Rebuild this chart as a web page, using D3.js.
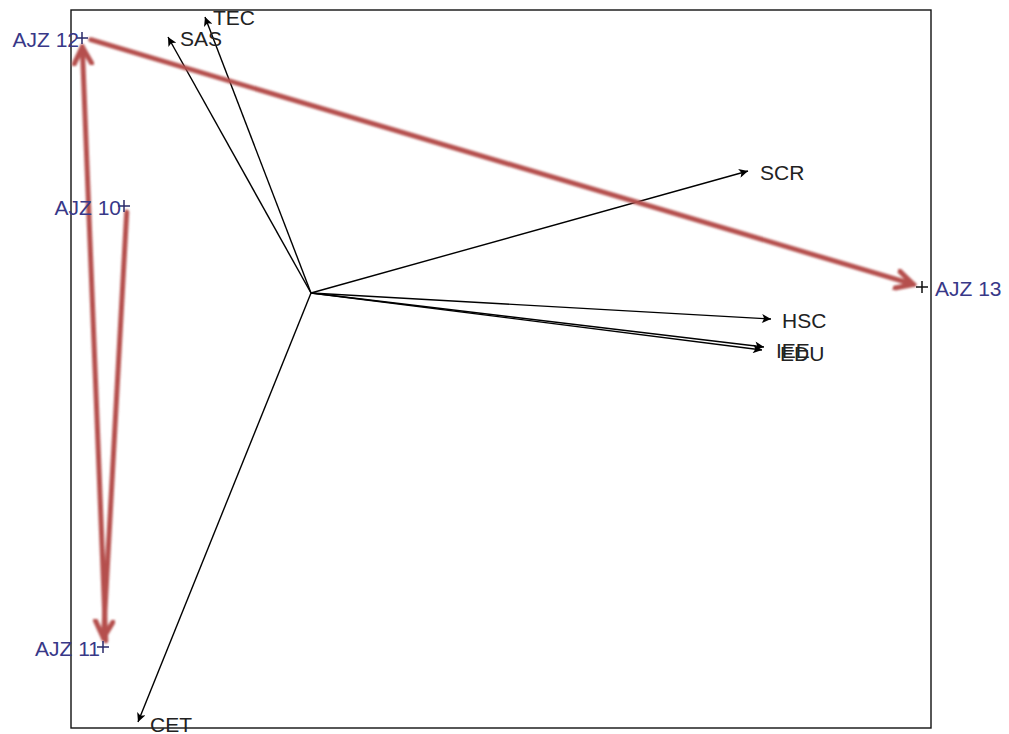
<!DOCTYPE html>
<html>
<head>
<meta charset="utf-8">
<script src="https://cdn.jsdelivr.net/npm/d3@7"></script>
<style>
  html, body { margin: 0; padding: 0; background: #fff; }
  svg { display: block; }
</style>
</head>
<body>
<svg id="chart" width="1009" height="734"></svg>
<script>
// Environmental variables (biplot arrow tips, ordination units)
const varNames = ["TEC", "SAS", "SCR", "HSC", "IEE", "EDU", "CET"];
const varAxis1 = [-1.06, -1.43, 4.37, 4.60, 4.53, 4.51, -1.73];
const varAxis2 = [2.76, 2.56, 1.22, -0.26, -0.54, -0.57, -4.29];

// Sampling sites (scores), in chronological order
const siteNames = ["AJZ 10", "AJZ 11", "AJZ 12", "AJZ 13"];
const siteAxis1 = [-1.87, -2.08, -2.29, 6.11];
const siteAxis2 = [0.87, -3.54, 2.55, 0.06];

const svg = d3.select("#chart");
const frame = { left: 71, top: 10, right: 931, bottom: 728 };
const font = "Liberation Sans, Arial, sans-serif";

const x = d3.scaleLinear().domain([-2.40, 6.20]).range([frame.left, frame.right]);
const y = d3.scaleLinear().domain([-4.35, 2.83]).range([frame.bottom, frame.top]);

const defs = svg.append("defs");
defs.append("marker")
  .attr("id", "blackHead")
  .attr("viewBox", "0 -5 10 10")
  .attr("refX", 10).attr("refY", 0)
  .attr("markerWidth", 13).attr("markerHeight", 9)
  .attr("markerUnits", "userSpaceOnUse")
  .attr("orient", "auto")
  .append("path").attr("d", "M0,-5L10,0L0,5L2.5,0Z").attr("fill", "#000");

defs.append("marker")
  .attr("id", "redHead")
  .attr("viewBox", "0 -5 10 10")
  .attr("refX", 8.5).attr("refY", 0)
  .attr("markerWidth", 22).attr("markerHeight", 22)
  .attr("markerUnits", "userSpaceOnUse")
  .attr("orient", "auto")
  .append("path").attr("d", "M0.5,-4.2L8.5,0L0.5,4.2")
  .attr("fill", "none").attr("stroke", "#b5504d").attr("stroke-width", 2.3)
  .attr("stroke-linejoin", "miter").attr("stroke-linecap", "round");

const soft = defs.append("filter").attr("id", "soft")
  .attr("x", "-5%").attr("y", "-5%").attr("width", "110%").attr("height", "110%");
soft.append("feGaussianBlur").attr("stdDeviation", 0.8);

// Frame
svg.append("rect")
  .attr("x", frame.left).attr("y", frame.top)
  .attr("width", frame.right - frame.left).attr("height", frame.bottom - frame.top)
  .attr("fill", "none").attr("stroke", "#111").attr("stroke-width", 1.4);

// Variable arrows
const vars = varNames.map((n, i) => ({ name: n, a1: varAxis1[i], a2: varAxis2[i] }));
const labelShift = { TEC: [8, 1], SAS: [12, 2], SCR: [12, 2], HSC: [11, 2], IEE: [12, 4], EDU: [18, 4], CET: [12, 3] };
const vg = svg.append("g");
vg.selectAll("line").data(vars).join("line")
  .attr("x1", x(0)).attr("y1", y(0))
  .attr("x2", d => x(d.a1)).attr("y2", d => y(d.a2))
  .attr("stroke", "#000").attr("stroke-width", 1.4)
  .attr("marker-end", "url(#blackHead)");
vg.selectAll("text").data(vars).join("text")
  .attr("x", d => x(d.a1) + labelShift[d.name][0])
  .attr("y", d => y(d.a2) + labelShift[d.name][1])
  .attr("dy", "0.35em")
  .attr("font-family", font)
  .attr("font-size", 21)
  .attr("fill", "#222")
  .text(d => d.name);

// Site trajectory (red arrows between consecutive samplings)
const sites = siteNames.map((n, i) => ({ name: n, a1: siteAxis1[i], a2: siteAxis2[i] }));
const legs = d3.pairs(sites).map(([s, t]) => {
  const x1 = x(s.a1), y1 = y(s.a2), x2 = x(t.a1), y2 = y(t.a2);
  const len = Math.hypot(x2 - x1, y2 - y1);
  const ux = (x2 - x1) / len, uy = (y2 - y1) / len;
  const g0 = 6, g1 = 9;
  return { x1: x1 + ux * g0 + 3, y1: y1 + uy * g0, x2: x2 - ux * g1, y2: y2 - uy * g1 };
});
svg.append("g").attr("filter", "url(#soft)")
  .selectAll("line").data(legs).join("line")
  .attr("x1", d => d.x1).attr("y1", d => d.y1)
  .attr("x2", d => d.x2).attr("y2", d => d.y2)
  .attr("stroke", "#b5504d").attr("stroke-width", 5)
  .attr("stroke-linecap", "round")
  .attr("marker-end", "url(#redHead)");

// Site markers and labels
const sg = svg.append("g");
sg.selectAll("path").data(sites).join("path")
  .attr("transform", d => `translate(${x(d.a1)},${y(d.a2)})`)
  .attr("d", "M-6,0H6M0,-6V6")
  .attr("stroke", d => d.name === "AJZ 13" ? "#111" : "#2a2a6a")
  .attr("stroke-width", 1.5);
sg.selectAll("text").data(sites).join("text")
  .attr("x", d => d.name === "AJZ 13" ? x(d.a1) + 13 : x(d.a1) - 3)
  .attr("y", d => y(d.a2) + 2)
  .attr("dy", "0.35em")
  .attr("text-anchor", d => d.name === "AJZ 13" ? "start" : "end")
  .attr("font-family", font)
  .attr("font-size", 21)
  .attr("fill", "#383888")
  .text(d => d.name);
</script>
</body>
</html>
